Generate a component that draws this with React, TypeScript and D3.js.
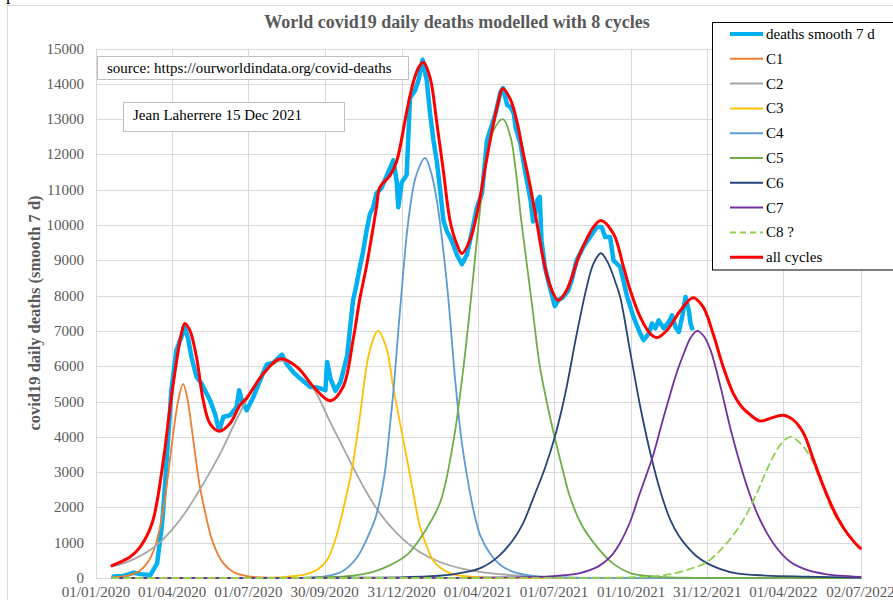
import React from 'react';
import * as d3 from 'd3';

// x values are days since 01/01/2020
const xTickDays = [0, 91, 182, 273, 365, 456, 547, 639, 730, 821, 913];
const xTickLabels = ['01/01/2020', '01/04/2020', '01/07/2020', '30/09/2020', '31/12/2020', '01/04/2021', '01/07/2021', '01/10/2021', '31/12/2021', '01/04/2022', '02/07/2022'];
const yTickValues = [0, 1000, 2000, 3000, 4000, 5000, 6000, 7000, 8000, 9000, 10000, 11000, 12000, 13000, 14000, 15000];

const deaths: [number, number][] = [
  [21, 40], [33, 60], [45, 150], [53, 110], [65, 85], [73, 415], [79, 1550], [82, 2490], [86, 3900], [90, 5320],
  [96, 6450], [102, 6830], [106, 7110], [110, 6780], [114, 6260], [120, 5700], [126, 5510], [130, 5320], [136, 5040],
  [142, 4660], [146, 4280], [148, 4240], [152, 4560], [160, 4610], [168, 4850], [171, 5320], [174, 5040], [180, 4750],
  [188, 5130], [196, 5600], [204, 6050], [212, 6100], [222, 6330], [228, 6050], [236, 5820], [244, 5650], [256, 5410],
  [264, 5400], [274, 5320], [276, 6120], [280, 5650], [286, 5300], [292, 5550], [300, 6300], [303, 7000], [307, 7870],
  [311, 8300], [315, 8800], [319, 9250], [323, 9820], [327, 10300], [331, 10500], [335, 10900], [341, 11050],
  [349, 11500], [355, 11830], [359, 11260], [361, 10500], [365, 11200], [371, 11420], [375, 13600], [381, 13810],
  [385, 14090], [390, 14680], [395, 14090], [399, 13150], [403, 12400], [407, 11800], [411, 11000], [415, 10120],
  [419, 9830], [425, 9550], [431, 9150], [437, 8890], [443, 9160], [449, 9820], [455, 10500], [461, 10900],
  [467, 12400], [471, 12700], [477, 13150], [483, 13760], [486, 13880], [491, 13400], [495, 13340], [499, 13150],
  [501, 12770], [507, 12300], [513, 11450], [519, 10700], [522, 10100], [524, 10220], [527, 10700], [530, 10800],
  [532, 9570], [536, 8810], [542, 8240], [548, 7700], [552, 7870], [558, 7960], [564, 8150], [568, 8430], [574, 9000],
  [582, 9380], [590, 9660], [598, 9940], [604, 9940], [608, 9660], [614, 9660], [618, 9000], [626, 8810], [634, 8000],
  [642, 7390], [650, 6920], [654, 6740], [660, 6920], [664, 7210], [668, 7070], [672, 7300], [678, 7070], [684, 7250],
  [688, 7440], [692, 7110], [696, 6970], [700, 7390], [704, 7960], [708, 7580], [710, 7210], [712, 7070],
];

const c1: [number, number][] = [
  [19, 15], [40, 80], [52, 200], [62, 450], [70, 850], [76, 1400], [82, 2200], [87, 3100], [92, 4050], [98, 5000],
  [104, 5500], [109, 5100], [114, 4300], [119, 3400], [124, 2600], [130, 1900], [137, 1200], [144, 750], [152, 420],
  [164, 170], [180, 55], [200, 15], [240, 2], [300, 0], [913, 0],
];
const c2: [number, number][] = [
  [19, 320], [40, 480], [60, 720], [75, 980], [90, 1350], [105, 1800], [120, 2350], [135, 2950], [150, 3600],
  [165, 4350], [180, 5050], [195, 5650], [210, 6050], [222, 6150], [235, 6050], [250, 5700], [265, 5150], [280, 4400],
  [295, 3700], [310, 3000], [325, 2350], [340, 1800], [360, 1250], [385, 760], [410, 460], [440, 250], [470, 140],
  [510, 60], [560, 20], [620, 5], [700, 1], [913, 0],
];
const c3: [number, number][] = [
  [19, 0], [170, 2], [220, 20], [250, 100], [265, 250], [276, 510], [286, 1100], [295, 1920], [307, 3250], [315, 4560],
  [327, 6450], [337, 7000], [347, 6500], [355, 5400], [363, 4400], [371, 3420], [379, 2400], [387, 1450], [395, 900],
  [403, 480], [413, 260], [423, 130], [440, 50], [470, 12], [530, 2], [913, 0],
];
const c4: [number, number][] = [
  [19, 0], [200, 2], [250, 12], [275, 50], [295, 200], [311, 560], [320, 930], [327, 1300], [333, 1650], [339, 2200],
  [345, 3000], [351, 4300], [356, 5500], [361, 7000], [366, 8400], [371, 9700], [377, 10800], [383, 11450],
  [393, 11900], [400, 11500], [407, 10700], [419, 8350], [429, 5600], [436, 4000], [443, 2900], [451, 1900],
  [459, 1200], [471, 680], [485, 330], [500, 160], [525, 50], [560, 12], [620, 2], [913, 0],
];
const c5: [number, number][] = [
  [19, 0], [200, 2], [260, 10], [300, 50], [331, 175], [350, 350], [372, 670], [391, 1260], [411, 2140], [427, 3900],
  [438, 5800], [446, 7500], [452, 8900], [458, 10300], [465, 11700], [474, 12650], [486, 13000], [495, 12500],
  [501, 11600], [508, 10100], [515, 8800], [522, 7500], [530, 6000], [540, 4800], [548, 3960], [557, 3100],
  [566, 2300], [580, 1500], [598, 890], [618, 400], [638, 140], [667, 40], [700, 10], [760, 2], [913, 0],
];
const c6: [number, number][] = [
  [19, 0], [250, 2], [320, 10], [370, 25], [400, 50], [430, 120], [459, 280], [480, 600], [498, 1075], [510, 1550],
  [522, 2250], [536, 3100], [548, 4000], [556, 4750], [562, 5400], [574, 6900], [586, 8240], [594, 8900], [603, 9200],
  [612, 8900], [620, 8400], [626, 7960], [638, 6400], [650, 4850], [658, 3950], [666, 3150], [676, 2300], [686, 1640],
  [696, 1200], [706, 890], [718, 600], [730, 415], [745, 260], [765, 130], [800, 70], [849, 40], [913, 10],
];
const c7: [number, number][] = [
  [19, 0], [400, 2], [460, 8], [500, 20], [538, 40], [560, 80], [578, 140], [600, 330], [615, 620], [626, 1000],
  [638, 1600], [648, 2300], [657, 2900], [666, 3530], [676, 4400], [686, 5230], [694, 5850], [702, 6360], [710, 6800],
  [718, 7000], [726, 6850], [734, 6450], [746, 5400], [757, 4300], [769, 3250], [781, 2350], [793, 1650], [809, 980],
  [829, 460], [849, 230], [869, 120], [889, 65], [913, 30],
];
const c8: [number, number][] = [
  [19, 0], [500, 1], [580, 5], [620, 12], [645, 25], [666, 45], [686, 110], [706, 230], [730, 460], [753, 980],
  [773, 1640], [790, 2450], [800, 3000], [810, 3500], [821, 3880], [829, 4000], [841, 3820], [853, 3430], [865, 2770],
  [881, 1830], [897, 1260], [913, 800],
];
const allCycles: [number, number][] = [
  [19, 350], [41, 600], [53, 890], [67, 1550], [81, 3430], [86, 4380], [94, 5790], [102, 6920], [106, 7210],
  [112, 7020], [120, 6260], [128, 5040], [136, 4380], [147, 4160], [160, 4380], [172, 4900], [180, 5100], [200, 5790],
  [220, 6210], [240, 5980], [260, 5410], [280, 5020], [295, 5410], [307, 6740], [315, 7900], [323, 8830],
  [335, 10500], [339, 11070], [351, 11400], [359, 11800], [371, 13200], [379, 14050], [385, 14450], [391, 14610],
  [399, 14170], [407, 12900], [415, 11500], [423, 10100], [431, 9450], [437, 9190], [447, 9600], [455, 10320],
  [467, 11920], [479, 13340], [486, 13860], [495, 13550], [503, 12900], [510, 12060], [518, 11170], [526, 10130],
  [534, 9050], [542, 8300], [552, 7870], [562, 8150], [578, 9190], [594, 9940], [603, 10130], [618, 9750],
  [630, 8810], [638, 8150], [650, 7390], [662, 6920], [670, 6810], [682, 7020], [698, 7580], [713, 7940],
  [725, 7680], [737, 6920], [749, 5980], [761, 5230], [771, 4850], [781, 4630], [793, 4450], [809, 4550],
  [821, 4610], [833, 4470], [845, 4100], [857, 3340], [869, 2580], [881, 1920], [893, 1410], [905, 1030], [913, 840],
];

const seriesNames = ['deaths smooth 7 d', 'C1', 'C2', 'C3', 'C4', 'C5', 'C6', 'C7', 'C8 ?', 'all cycles'];
const seriesData = [deaths, c1, c2, c3, c4, c5, c6, c7, c8, allCycles];
const seriesColors = ['#00B0F0', '#ED7D31', '#A5A5A5', '#FFC000', '#5B9BD5', '#70AD47', '#264478', '#7030A0', '#92D050', '#FF0000'];
const seriesWidths = [4.5, 1.8, 1.8, 1.8, 1.8, 1.8, 1.8, 1.8, 1.8, 3];

const FONT = '"Liberation Serif", "Times New Roman", serif';

export default function App() {
  const W = 893, H = 600;
  const x = d3.scaleLinear().domain([0, 913]).range([96, 860.5]);
  const y = d3.scaleLinear().domain([0, 15000]).range([578, 48.5]);
  const yc = (v: number) => Math.min(y(0), y(v));
  const smooth = d3.line<[number, number]>().x(d => x(d[0])).y(d => yc(d[1])).curve(d3.curveCatmullRom.alpha(0.5));
  const raw = d3.line<[number, number]>().x(d => x(d[0])).y(d => y(d[1])).curve(d3.curveLinear);

  return (
    <svg width={W} height={H} style={{ position: 'absolute', left: 0, top: 0, background: '#fff' }} fontFamily={FONT}>
      <defs>
        <clipPath id="plotclip">
          <rect x={90} y={40} width={780} height={539} />
        </clipPath>
      </defs>
      <rect x={0} y={0} width={W} height={H} fill="#fff" />
      <text x={6} y={0} fontSize={18} fill="#000">p</text>
      <rect x={7.5} y={5.5} width={900} height={600} fill="none" stroke="#D9D9D9" />
      <text x={457} y={28} textAnchor="middle" fontSize={18} fontWeight="bold" fill="#595959">World covid19 daily deaths modelled with 8 cycles</text>
      {yTickValues.map(v => (
        <line key={'gy' + v} x1={x(0)} x2={x(913)} y1={Math.round(y(v)) + 0.5} y2={Math.round(y(v)) + 0.5} stroke="#D9D9D9" strokeWidth={1} />
      ))}
      {xTickDays.map(d => (
        <line key={'gx' + d} x1={Math.round(x(d)) + 0.5} x2={Math.round(x(d)) + 0.5} y1={y(15000)} y2={y(0)} stroke="#D9D9D9" strokeWidth={1} />
      ))}
      {yTickValues.map(v => (
        <text key={'ty' + v} x={84} y={y(v) + 5} textAnchor="end" fontSize={15} fill="#595959">{v}</text>
      ))}
      {xTickDays.map((d, i) => (
        <text key={'tx' + d} x={x(d)} y={597} textAnchor="middle" fontSize={15} fill="#595959">{xTickLabels[i]}</text>
      ))}
      <text transform={`translate(40,${313}) rotate(-90)`} textAnchor="middle" fontSize={16.5} fontWeight="bold" fill="#595959">covid19 daily deaths (smooth 7 d)</text>
      <g clipPath="url(#plotclip)">
        {seriesData.map((data, i) => (
          <path key={'s' + i} d={(i === 0 ? raw(data) : smooth(data)) || ''} fill="none" stroke={seriesColors[i]}
            strokeWidth={seriesWidths[i]} strokeDasharray={i === 8 ? '7,5' : undefined} strokeLinejoin="round" strokeLinecap="round" />
        ))}
      </g>
      <rect x={97.5} y={56.5} width={311} height={23} fill="#fff" stroke="#BFBFBF" />
      <text x={107} y={73} fontSize={15} fill="#000">source: https://ourworldindata.org/covid-deaths</text>
      <rect x={123.5} y={102.5} width={221} height={29} fill="#fff" stroke="#BFBFBF" />
      <text x={133} y={120} fontSize={15} fill="#000">Jean Laherrere 15 Dec 2021</text>
      <rect x={712.5} y={22.5} width={200} height={247.5} fill="#fff" stroke="#000" />
      {seriesNames.map((name, i) => {
        const cy = 34 + i * 24.8;
        return (
          <g key={'lg' + i}>
            <line x1={730} x2={763} y1={cy} y2={cy} stroke={seriesColors[i]} strokeWidth={i === 0 ? 4 : i === 9 ? 3 : 2}
              strokeDasharray={i === 8 ? '6,4' : undefined} />
            <text x={766} y={cy + 5} fontSize={15} fill="#000">{name}</text>
          </g>
        );
      })}
    </svg>
  );
}
